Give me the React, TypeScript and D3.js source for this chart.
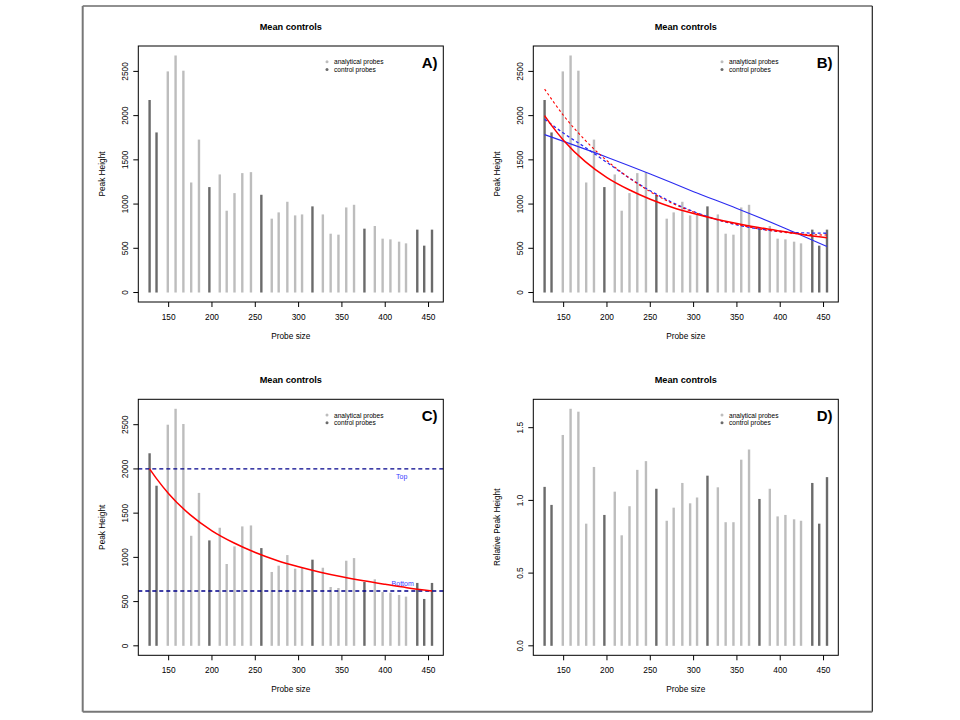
import React from 'react';
import * as d3 from 'd3';

// ---- data ----
const probeSizes = [128, 136, 149, 158, 167, 176, 185, 197, 209, 217, 226, 235, 245, 257, 269, 277, 287, 296, 304, 316, 328, 337, 346, 355, 364, 376, 388, 397, 406, 416, 424, 437, 445, 454];
const probeTypes = ['control', 'control', 'analytical', 'analytical', 'analytical', 'analytical', 'analytical', 'control', 'analytical', 'analytical', 'analytical', 'analytical', 'analytical', 'control', 'analytical', 'analytical', 'analytical', 'analytical', 'analytical', 'control', 'analytical', 'analytical', 'analytical', 'analytical', 'analytical', 'control', 'analytical', 'analytical', 'analytical', 'analytical', 'analytical', 'control', 'control', 'control'];
const peakHeights = [2177, 1810, 2500, 2680, 2508, 1244, 1729, 1192, 1335, 925, 1124, 1350, 1361, 1105, 835, 906, 1026, 872, 883, 974, 883, 665, 654, 962, 992, 722, 752, 609, 601, 575, 556, 711, 530, 711];
const relativeHeights = [1.093, 0.969, 1.45, 1.63, 1.61, 0.84, 1.23, 0.9, 1.06, 0.76, 0.96, 1.21, 1.27, 1.08, 0.86, 0.95, 1.12, 0.98, 1.02, 1.17, 1.09, 0.85, 0.85, 1.28, 1.35, 1.01, 1.08, 0.89, 0.9, 0.87, 0.86, 1.12, 0.84, 1.16];

// fitted curves (panel B / C)
const redSolidX = [128, 136, 150, 175, 200, 225, 250, 275, 300, 325, 350, 375, 400, 425, 454];
const redSolidY = [2000, 1890, 1720, 1480, 1300, 1165, 1055, 965, 893, 832, 780, 735, 695, 657, 620];
const redDashX = [128, 150, 175, 200, 225, 250, 275, 300, 325, 350, 375, 400, 425, 454];
const redDashY = [2300, 2000, 1720, 1490, 1300, 1140, 1010, 910, 830, 770, 720, 685, 660, 650];
const blueDashX = [128, 150, 175, 200, 225, 250, 275, 300, 325, 350, 375, 400, 425, 454];
const blueDashY = [1960, 1800, 1640, 1470, 1300, 1150, 1020, 915, 830, 765, 720, 690, 675, 670];
const blueSolidX = [128, 200, 250, 300, 350, 400, 454];
const blueSolidY = [1785, 1530, 1340, 1140, 950, 750, 520];

const topLevel = 2000;
const bottomLevel = 620;

const xTicks = [150, 200, 250, 300, 350, 400, 450];
const yTicksAbs = [0, 500, 1000, 1500, 2000, 2500];
const yTicksRel = [0, 0.5, 1.0, 1.5];
const yTickRelLabels = ['0.0', '0.5', '1.0', '1.5'];

const legendLabels = ['analytical probes', 'control probes'];
const panelLetters = ['A)', 'B)', 'C)', 'D)'];
const titleText = 'Mean controls';

// ---- layout ----
const FONT = 'Liberation Sans, Arial, Helvetica, sans-serif';
const BOX = { left: 138.3, right: 443.3, top: 46, bottom: 302 };
const COLOR_LIGHT = '#bdbdbd';
const COLOR_DARK = '#6b6b6b';

function pad(ext: [number, number]): [number, number] {
  const r = ext[1] - ext[0];
  return [ext[0] - 0.04 * r, ext[1] + 0.04 * r];
}

type PanelProps = {
  dx: number;
  dy: number;
  values: number[];
  relative?: boolean;
  letter: string;
  children?: (x: d3.ScaleLinear<number, number>, y: d3.ScaleLinear<number, number>) => React.ReactNode;
};

function Panel({ dx, dy, values, relative, letter, children }: PanelProps) {
  const x = d3.scaleLinear().domain(pad(d3.extent(probeSizes) as [number, number])).range([BOX.left, BOX.right]);
  const y = d3.scaleLinear().domain(pad([0, d3.max(values) as number])).range([BOX.bottom, BOX.top]);
  const yTicks = relative ? yTicksRel : yTicksAbs;
  const cx = (BOX.left + BOX.right) / 2;
  const cy = (BOX.top + BOX.bottom) / 2;
  return (
    <g transform={`translate(${dx},${dy})`} fontFamily={FONT}>
      <text x={cx} y={26.5} textAnchor="middle" dominantBaseline="central" fontWeight="bold" fontSize={9.2} fill="#000">{titleText}</text>
      {values.map((v, i) => (
        <line key={i} x1={x(probeSizes[i])} x2={x(probeSizes[i])} y1={y(0)} y2={y(v)}
          stroke={probeTypes[i] === 'control' ? COLOR_DARK : COLOR_LIGHT} strokeWidth={2.4} />
      ))}
      {children && children(x, y)}
      <rect x={BOX.left} y={BOX.top} width={BOX.right - BOX.left} height={BOX.bottom - BOX.top} fill="none" stroke="#000" strokeWidth={1} />
      {xTicks.map((t) => (
        <g key={t}>
          <line x1={x(t)} x2={x(t)} y1={BOX.bottom} y2={BOX.bottom + 5} stroke="#000" />
          <text x={x(t)} y={316.8} textAnchor="middle" dominantBaseline="central" fontSize={8.3} fill="#000">{t}</text>
        </g>
      ))}
      {yTicks.map((t, i) => (
        <g key={t}>
          <line x1={BOX.left - 5} x2={BOX.left} y1={y(t)} y2={y(t)} stroke="#000" />
          <text transform={`translate(${125},${y(t)}) rotate(-90)`} textAnchor="middle" dominantBaseline="central" fontSize={8.3} fill="#000">
            {relative ? yTickRelLabels[i] : String(t)}
          </text>
        </g>
      ))}
      <text x={cx} y={335.5} textAnchor="middle" dominantBaseline="central" fontSize={8.3} fill="#000">Probe size</text>
      <text transform={`translate(${102},${cy}) rotate(-90)`} textAnchor="middle" dominantBaseline="central" fontSize={8.3} fill="#000">
        {relative ? 'Relative Peak Height' : 'Peak Height'}
      </text>
      {legendLabels.map((l, i) => (
        <g key={l}>
          <circle cx={327} cy={61.8 + i * 7.7} r={1.5} fill={i === 0 ? COLOR_LIGHT : COLOR_DARK} />
          <text x={334} y={61.8 + i * 7.7} dominantBaseline="central" fontSize={6.6} fill="#000">{l}</text>
        </g>
      ))}
      <text x={437.5} y={62} textAnchor="end" dominantBaseline="central" fontWeight="bold" fontSize={15} fill="#000">{letter}</text>
    </g>
  );
}

function curvePath(xs: number[], ys: number[], x: d3.ScaleLinear<number, number>, y: d3.ScaleLinear<number, number>) {
  const pts = xs.map((v, i) => [v, ys[i]] as [number, number]);
  return d3.line<[number, number]>().x((d) => x(d[0])).y((d) => y(d[1])).curve(d3.curveMonotoneX)(pts) || '';
}

export default function App() {
  const rowOff = 353.3;
  const colOff = 395;
  return (
    <svg width={960} height={720} style={{ position: 'absolute', left: 0, top: 0, background: '#fff' }}>
      <rect x={0} y={0} width={960} height={720} fill="#fff" />
      {/* outer frame */}
      <line x1={82.7} y1={6} x2={872.3} y2={6} stroke="#222" strokeWidth={1.2} />
      <line x1={872.3} y1={6} x2={872.3} y2={711.7} stroke="#222" strokeWidth={1.2} />
      <line x1={82.7} y1={6} x2={82.7} y2={711.7} stroke="#777" strokeWidth={2} />
      <line x1={82.7} y1={711.7} x2={872.3} y2={711.7} stroke="#777" strokeWidth={2} />

      <Panel dx={0} dy={0} values={peakHeights} letter={panelLetters[0]} />

      <Panel dx={colOff} dy={0} values={peakHeights} letter={panelLetters[1]}>
        {(x, y) => (
          <g fill="none">
            <path d={curvePath(blueSolidX, blueSolidY, x, y)} stroke="#2b2bf0" strokeWidth={1.1} />
            <path d={curvePath(blueDashX, blueDashY, x, y)} stroke="#2b2bf0" strokeWidth={1.3} strokeDasharray="3,2.5" />
            <path d={curvePath(redDashX, redDashY, x, y)} stroke="#ff0000" strokeWidth={1.1} strokeDasharray="2.5,2.5" />
            <path d={curvePath(redSolidX, redSolidY, x, y)} stroke="#ff0000" strokeWidth={1.5} />
          </g>
        )}
      </Panel>

      <Panel dx={0} dy={rowOff} values={peakHeights} letter={panelLetters[2]}>
        {(x, y) => (
          <g>
            <line x1={BOX.left} x2={BOX.right} y1={y(topLevel)} y2={y(topLevel)} stroke="#00008b" strokeWidth={1.3} strokeDasharray="4,3" />
            <line x1={BOX.left} x2={BOX.right} y1={y(bottomLevel)} y2={y(bottomLevel)} stroke="#00008b" strokeWidth={1.3} strokeDasharray="4,3" />
            <text x={401.7} y={y(topLevel) + 7.5} textAnchor="middle" dominantBaseline="central" fontSize={7} fill="#3a3aff">Top</text>
            <text x={402.7} y={y(bottomLevel) - 7.5} textAnchor="middle" dominantBaseline="central" fontSize={7} fill="#3a3aff">Bottom</text>
            <path d={curvePath(redSolidX, redSolidY, x, y)} fill="none" stroke="#ff0000" strokeWidth={1.5} />
          </g>
        )}
      </Panel>

      <Panel dx={colOff} dy={rowOff} values={relativeHeights} relative letter={panelLetters[3]} />
    </svg>
  );
}
